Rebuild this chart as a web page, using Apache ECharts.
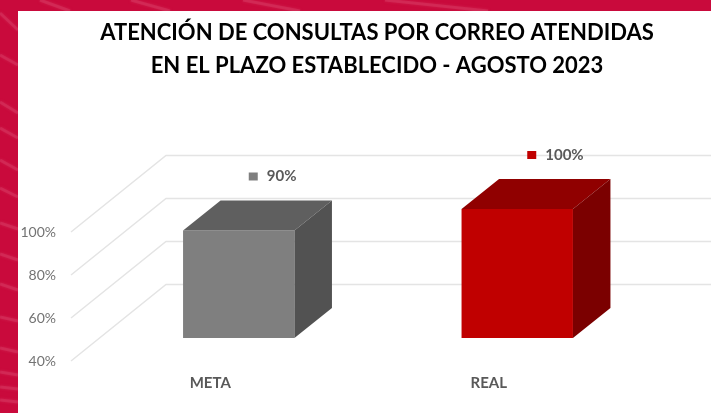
<!DOCTYPE html>
<html>
<head>
<meta charset="utf-8">
<style>
  html, body { margin: 0; padding: 0; background: #c90a3c; }
  #chart { width: 711px; height: 413px; }
</style>
</head>
<body>
<div id="chart"></div>
<script src="https://cdn.jsdelivr.net/npm/echarts@6/dist/echarts.min.js"></script>
<script>
const titleText = 'ATENCIÓN DE CONSULTAS POR CORREO ATENDIDAS\nEN EL PLAZO ESTABLECIDO - AGOSTO 2023';
const categories = ['META', 'REAL'];
const values = [90, 100];
const yTicks = [40, 60, 80, 100];

// front, top, side
const barColors = [
  ['#7f7f7f', '#5f5f5f', '#525252'],
  ['#c00000', '#900000', '#7b0000']
];

// fake 3d: how far the back wall and the boxes sit from the front plane
const wallDepth = [95, -76.5];
const barShift = [28.5, -23];
const barDepth = [37.5, -30];

// lighter streaks of the slide background: [x1, y1, x2, y2]
const streaks = [
  [0, 13, 18, 30], [0, 55, 18, 65], [0, 102, 18, 113], [0, 128, 18, 138],
  [0, 160, 18, 170], [0, 188, 18, 197], [0, 223, 18, 229], [0, 254, 18, 260],
  [0, 284, 18, 290], [0, 317, 18, 321], [0, 348, 18, 352], [0, 372, 18, 375],
  [0, 387, 18, 389], [0, 400, 18, 402],
  [40, 0, 70, 11], [131, 0, 170, 11], [243, 0, 300, 11], [385, 0, 488, 11]
];

const poly = (points, color) => ({
  type: 'polygon',
  shape: { points },
  style: { fill: color }
});

const renderWalls = (params, api) => {
  const y = api.coord([0, api.value(0)])[1];
  const x0 = params.coordSys.x;
  const x1 = x0 + wallDepth[0];
  const y1 = y + wallDepth[1];
  return {
    type: 'polyline',
    shape: { points: [[x0, y], [x1, y1], [x1 + params.coordSys.width, y1]] },
    style: { stroke: '#e4e4e4', lineWidth: 1.5, fill: null }
  };
};

const renderBox = (params, api) => {
  const i = api.value(0);
  const val = api.value(1);
  const base = api.coord([i, yTicks[0]]);
  const top = api.coord([i, val]);
  const w = api.size([1, 0])[0] * 0.4;
  const l = base[0] + barShift[0] - w / 2;
  const r = l + w;
  const b = base[1] + barShift[1];
  const t = top[1] + barShift[1];
  const [dx, dy] = barDepth;
  const c = barColors[i];
  const labelX = (l + r) / 2 + 10;
  const labelY = t - 54;
  return {
    type: 'group',
    children: [
      poly([[l, t], [r, t], [r, b], [l, b]], c[0]),
      poly([[l, t], [l + dx, t + dy], [r + dx, t + dy], [r, t]], c[1]),
      poly([[r, t], [r + dx, t + dy], [r + dx, b + dy], [r, b]], c[2]),
      {
        type: 'rect',
        shape: { x: labelX, y: labelY - 4, width: 9, height: 8 },
        style: { fill: c[0] }
      },
      {
        type: 'text',
        x: labelX + 18,
        y: labelY,
        style: {
          text: val + '%',
          fill: '#595959',
          font: 'bold 15px Lato',
          verticalAlign: 'middle'
        }
      }
    ]
  };
};

const chart = echarts.init(document.getElementById('chart'), null, { renderer: 'canvas' });

chart.setOption({
  animation: false,
  backgroundColor: '#c90a3c',
  graphic: [
    ...streaks.map(s => ({
      type: 'line',
      z: -2,
      shape: { x1: s[0], y1: s[1], x2: s[2], y2: s[3] },
      style: { stroke: '#d9406a', lineWidth: 3, opacity: 0.4, shadowBlur: 3, shadowColor: '#d9406a' }
    })),
    {
      type: 'rect',
      z: -1,
      shape: { x: 18, y: 11, width: 693, height: 402 },
      style: { fill: '#ffffff' }
    }
  ],
  title: {
    text: titleText,
    left: 372,
    top: 11,
    textAlign: 'center',
    textStyle: {
      fontFamily: 'Lato',
      fontSize: 22,
      fontWeight: 'bold',
      color: '#000000',
      lineHeight: 33
    }
  },
  grid: { left: 71, right: 83, top: 232, height: 129 },
  xAxis: {
    type: 'category',
    data: categories,
    axisLine: { show: false },
    axisTick: { show: false },
    axisLabel: { margin: 15, color: '#595959', fontFamily: 'Lato', fontSize: 15, fontWeight: 'bold' }
  },
  yAxis: {
    type: 'value',
    min: 40,
    max: 100,
    interval: 20,
    axisLine: { show: false },
    axisTick: { show: false },
    splitLine: { show: false },
    axisLabel: { margin: 15, color: '#737373', fontFamily: 'Lato', fontSize: 14, formatter: '{value}%' }
  },
  series: [
    {
      type: 'custom',
      renderItem: renderWalls,
      encode: { y: 0 },
      data: yTicks.map(v => [v]),
      z: 1,
      silent: true
    },
    {
      type: 'custom',
      renderItem: renderBox,
      encode: { x: 0, y: 1 },
      data: values.map((v, i) => [i, v]),
      z: 2
    }
  ]
});
</script>
</body>
</html>
